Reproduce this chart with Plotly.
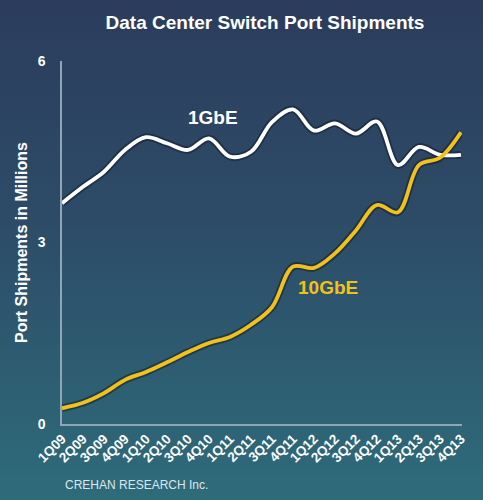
import base64
import plotly.graph_objs as go

# 季度标签
quarters = ['1Q09', '2Q09', '3Q09', '4Q09', '1Q10', '2Q10', '3Q10', '4Q10',
            '1Q11', '2Q11', '3Q11', '4Q11', '1Q12', '2Q12', '3Q12', '4Q12',
            '1Q13', '2Q13', '3Q13', '4Q13']

# 单位: 百万端口
gbe_1 = [3.65, 3.92, 4.17, 4.53, 4.74, 4.64, 4.53, 4.72,
         4.42, 4.50, 4.99, 5.20, 4.85, 4.97, 4.80, 5.00,
         4.28, 4.58, 4.45, 4.45]
gbe_10 = [0.26, 0.35, 0.51, 0.73, 0.86, 1.02, 1.19, 1.34,
          1.44, 1.64, 1.93, 2.60, 2.58, 2.82, 3.20, 3.62,
          3.50, 4.28, 4.40, 4.82]

y_ticks = [0, 3, 6]

W, H = 483, 500
margin = dict(l=62, r=21, t=61, b=76)
pw = W - margin['l'] - margin['r']
ph = H - margin['t'] - margin['b']

# 背景渐变 (深蓝 -> 青色)
svg = ('<svg xmlns="http://www.w3.org/2000/svg" width="483" height="500" preserveAspectRatio="none">'
       '<defs><linearGradient id="g" x1="0" y1="0" x2="0" y2="1">'
       '<stop offset="0" stop-color="#2b3c5c"/>'
       '<stop offset="0.45" stop-color="#2d4c68"/>'
       '<stop offset="1" stop-color="#2e6c7a"/>'
       '</linearGradient></defs>'
       '<rect width="483" height="500" fill="url(#g)"/></svg>')
bg_src = 'data:image/svg+xml;base64,' + base64.b64encode(svg.encode()).decode()

x_idx = list(range(len(quarters)))

fig = go.Figure()

# 阴影描边
for vals in (gbe_1, gbe_10):
    fig.add_trace(go.Scatter(
        x=x_idx, y=vals, mode='lines',
        line=dict(color='rgba(20,30,45,0.55)', width=7.5, shape='spline', smoothing=1.0),
        hoverinfo='skip', showlegend=False,
    ))

fig.add_trace(go.Scatter(
    x=x_idx, y=gbe_1, mode='lines', name='1GbE',
    line=dict(color='white', width=3.8, shape='spline', smoothing=1.0),
    showlegend=False,
))
fig.add_trace(go.Scatter(
    x=x_idx, y=gbe_10, mode='lines', name='10GbE',
    line=dict(color='#f2c21b', width=3.8, shape='spline', smoothing=1.0),
    showlegend=False,
))

fig.update_layout(
    width=W, height=H,
    margin=margin,
    paper_bgcolor='#2d4c68',
    plot_bgcolor='rgba(0,0,0,0)',
    font=dict(family='Liberation Sans, Arial, sans-serif', color='white'),
    title=dict(text='<b>Data Center Switch Port Shipments</b>',
               x=265 / W, xanchor='center', y=1 - 22 / H, yanchor='middle',
               font=dict(size=19, color='white')),
    images=[dict(source=bg_src, xref='paper', yref='paper',
                 x=-margin['l'] / pw, y=1 + margin['t'] / ph,
                 sizex=W / pw, sizey=H / ph,
                 xanchor='left', yanchor='top', sizing='stretch', layer='below')],
    xaxis=dict(
        range=[0, 19.05],
        tickvals=x_idx, ticktext=[f'<b>{q}</b>' for q in quarters],
        tickangle=-45, tickfont=dict(size=13.5, color='white'),
        showgrid=False, zeroline=False,
        showline=True, linecolor='#8fa6b8', linewidth=1.5,
        ticks='', fixedrange=True,
    ),
    yaxis=dict(
        range=[0, 6], tickvals=y_ticks,
        ticktext=[f'<b>{v}</b>' for v in y_ticks],
        tickfont=dict(size=14, color='white'),
        showgrid=False, zeroline=False,
        showline=True, linecolor='#8fa6b8', linewidth=1.5,
        ticks='', ticklabelstandoff=12, fixedrange=True,
        title=dict(text='<b>Port Shipments in Millions</b>',
                   font=dict(size=16, color='white'), standoff=6),
    ),
    annotations=[
        dict(x=7.2, y=5.07, xref='x', yref='y', text='<b>1GbE</b>',
             showarrow=False, font=dict(size=19, color='white')),
        dict(x=12.65, y=2.26, xref='x', yref='y', text='<b>10GbE</b>',
             showarrow=False, font=dict(size=19, color='#f2c21b')),
        dict(x=(63 - margin['l']) / pw, y=(H - margin['b'] - 485) / ph,
             xref='paper', yref='paper',
             text='CREHAN RESEARCH Inc.', showarrow=False,
             xanchor='left', yanchor='middle',
             font=dict(size=12, color='#dde6ee')),
    ],
)

# 去掉页面默认边距, 隐藏工具栏
fig.write_html("out.html", config={'displayModeBar': False},
               post_script="document.body.style.margin='0';")
